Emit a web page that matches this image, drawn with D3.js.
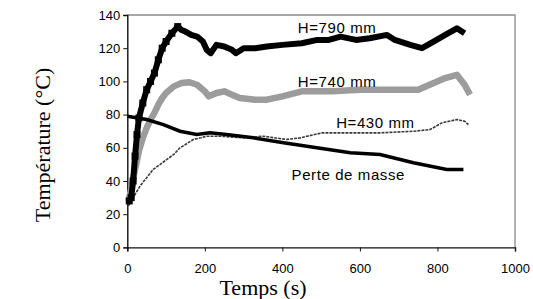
<!DOCTYPE html>
<html lang="fr">
<head>
    <meta charset="UTF-8">
    <title>Température vs temps</title>
    <script src="https://d3js.org/d3.v7.min.js"></script>
    <style>
        body { margin: 0; background: #fff; }
        svg { display: block; }
        .tick text { font-family: "Liberation Sans", Arial, sans-serif; font-size: 13px; fill: #000; }
        .lbl { font-family: "Liberation Sans", Arial, sans-serif; font-size: 15px; fill: #000; }
        .title { font-family: "Liberation Serif", "Times New Roman", serif; font-size: 22px; fill: #000; }
    </style>
</head>
<body>
<svg width="533" height="299"></svg>
<script>
    // values: [time (s), temperature (°C)]
    const h790 = [[5,28],[10,30],[15,40],[20,55],[25,68],[30,78],[40,87],[50,95],[60,100],[70,105],[80,113],[90,120],
        [100,124],[115,129],[130,133],[140,131],[150,130],[165,128],[180,127],[195,124],[205,119],[215,117],[230,122],
        [250,121],[270,119],[280,117],[300,120],[330,120],[360,121],[400,122],[450,123],[490,125],[520,125],[550,127],
        [590,125],[625,126],[670,128],[690,125],[730,122],[760,120],[790,124],[820,128],[850,132],[870,129]];
    const h740 = [[3,28],[10,35],[20,47],[30,58],[40,66],[50,72],[60,77],[70,81],[80,86],[90,90],[100,93],[120,97],
        [140,99],[160,99.5],[180,98],[200,94],[210,91],[230,93],[250,94],[270,92],[290,90],[330,89],[360,89],[400,91],
        [450,94],[530,94],[600,95],[650,95],[700,95],[750,95],[780,98],[820,102],[850,104],[870,98],[884,92]];
    const h430 = [[3,25],[15,30],[33,37],[50,42],[67,47],[85,50],[102,53],[120,56],[136,60],[150,62],[170,65],[190,66],
        [205,67],[239,67],[300,66],[351,67],[410,65],[446,66],[502,69],[583,69],[652,69],[740,70],[781,71],[811,75],
        [830,76],[850,77],[870,76],[880,74]];
    const perte = [[0,79],[50,77],[93,74],[136,70],[179,68],[213,69],[256,68],[325,66],[403,63],[489,60],[575,57],
        [652,56],[738,51],[824,47],[867,47]];
    const xTicks = [0, 200, 400, 600, 800, 1000];
    const yTicks = [0, 20, 40, 60, 80, 100, 120, 140];
    const labels = [
        { text: "H=790 mm", t: 541, v: 129 },
        { text: "H=740 mm", t: 541, v: 96.7 },
        { text: "H=430 mm", t: 640, v: 72 },
        { text: "Perte de masse", t: 570, v: 40.6 }
    ];

    const svg = d3.select("svg");
    const x = d3.scaleLinear().domain([0, 1000]).range([127.3, 515]);
    const y = d3.scaleLinear().domain([0, 140]).range([247.4, 15]);

    // plot frame (top and right in grey)
    svg.append("path")
        .attr("d", `M${x(0)},${y(140)}H${x(1000)}V${y(0)}`)
        .attr("fill", "none").attr("stroke", "#8a8a8a").attr("stroke-width", 1.3);

    const xAxis = svg.append("g")
        .attr("transform", `translate(0,${y(0)})`)
        .call(d3.axisBottom(x).tickValues(xTicks).tickSize(4).tickPadding(12).tickFormat(d3.format("d")));
    const yAxis = svg.append("g")
        .attr("transform", `translate(${x(0)},0)`)
        .call(d3.axisLeft(y).tickValues(yTicks).tickSize(4).tickPadding(3));
    [xAxis, yAxis].forEach(a => {
        a.select(".domain").attr("stroke", "#111").attr("stroke-width", 1.4);
        a.selectAll(".tick line").attr("stroke", "#111");
    });

    const line = d3.line().x(d => x(d[0])).y(d => y(d[1]));

    svg.append("path").datum(h430).attr("d", line)
        .attr("fill", "none").attr("stroke", "#3a3a3a").attr("stroke-width", 1.6)
        .attr("stroke-dasharray", "3,1");

    svg.append("path").datum(h740).attr("d", line)
        .attr("fill", "none").attr("stroke", "#9c9c9c").attr("stroke-width", 6.5)
        .attr("stroke-linejoin", "round");

    svg.append("path").datum(perte).attr("d", line)
        .attr("fill", "none").attr("stroke", "#000").attr("stroke-width", 3.5);

    svg.append("path").datum(h790).attr("d", line)
        .attr("fill", "none").attr("stroke", "#000").attr("stroke-width", 6)
        .attr("stroke-linejoin", "round");
    svg.selectAll(".sq").data(h790.filter(d => d[0] < 140)).enter().append("rect")
        .attr("class", "sq")
        .attr("x", d => x(d[0]) - 3.5).attr("y", d => y(d[1]) - 3.5)
        .attr("width", 7).attr("height", 7).attr("fill", "#000");

    svg.selectAll(".lbl").data(labels).enter().append("text")
        .attr("class", "lbl")
        .attr("x", d => x(d.t)).attr("y", d => y(d.v))
        .attr("text-anchor", "middle")
        .attr("letter-spacing", 0.6)
        .text(d => d.text);

    svg.append("text").attr("class", "title")
        .attr("x", 263).attr("y", 295)
        .attr("text-anchor", "middle")
        .text("Temps (s)");
    svg.append("text").attr("class", "title")
        .attr("transform", `translate(50,145) rotate(-90)`)
        .attr("text-anchor", "middle")
        .text("Température (°C)");
</script>
</body>
</html>
